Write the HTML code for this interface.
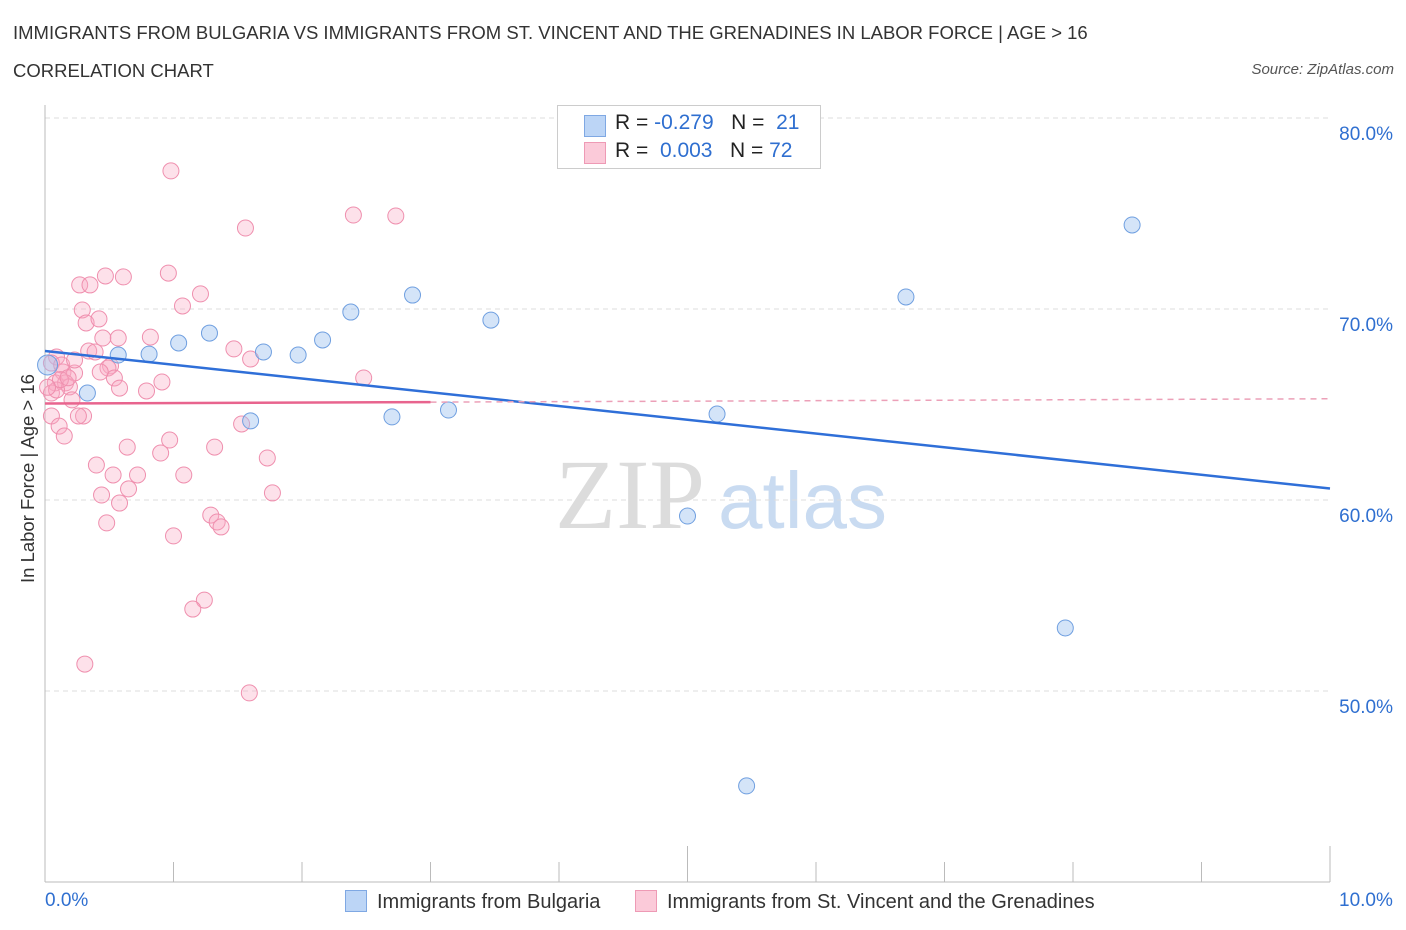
<!DOCTYPE html>
<html><head><meta charset="utf-8">
<style>
body{margin:0;background:#fff;font-family:"Liberation Sans",sans-serif;}
#wrap{position:relative;width:1406px;height:930px;overflow:hidden;}
.t{position:absolute;white-space:nowrap;}
</style></head><body>
<div id="wrap">
<div class="t" style="left:13px;top:22px;font-size:18.5px;color:#333;">IMMIGRANTS FROM BULGARIA VS IMMIGRANTS FROM ST. VINCENT AND THE GRENADINES IN LABOR FORCE | AGE &gt; 16</div>
<div class="t" style="left:13px;top:60px;font-size:18.5px;color:#333;">CORRELATION CHART</div>
<div class="t" style="right:12px;top:61px;font-size:15px;color:#555;font-style:italic;">Source: ZipAtlas.com</div>
<svg id="svg" width="1406" height="930" style="position:absolute;left:0;top:0">
<text x="555" y="528" font-family="Liberation Serif,serif" font-size="100" fill="#dcdcdc">ZIP</text>
<text x="718" y="528" font-family="Liberation Sans,sans-serif" font-size="80" fill="#c9dbf1">atlas</text>
<g id="grid"></g><g id="axes"></g><g id="pts"></g><g id="lines"></g>
</svg>
<div style="position:absolute;left:557px;top:105px;width:262px;height:62px;border:1px solid #ccc;background:#fff;font-size:21px;color:#222;">
<div style="position:absolute;left:26px;top:9px;width:20px;height:20px;background:#bcd5f6;border:1px solid #7fa8e3;"></div>
<div class="t" style="left:57px;top:5px;">R = <span style="color:#2f6fd0">-0.279</span>&nbsp;&nbsp;&nbsp;N = &nbsp;<span style="color:#2f6fd0">21</span></div>
<div style="position:absolute;left:26px;top:36px;width:20px;height:20px;background:#fbcad9;border:1px solid #ee9ab5;"></div>
<div class="t" style="left:57px;top:33px;">R = &nbsp;<span style="color:#2f6fd0">0.003</span>&nbsp;&nbsp;&nbsp;N = <span style="color:#2f6fd0">72</span></div>
</div>
<div class="t" style="left:-62px;top:482px;width:180px;text-align:center;font-size:18.5px;color:#333;transform:rotate(-90deg);">In Labor Force | Age &gt; 16</div>
<div class="t" style="left:45px;top:890px;font-size:19px;color:#2f6fd0;">0.0%</div>
<div class="t" style="left:1339px;top:890px;font-size:19px;color:#2f6fd0;">10.0%</div>
<div class="t" style="left:345px;top:890px;font-size:20px;color:#333;"><span style="display:inline-block;width:20px;height:20px;background:#bcd5f6;border:1px solid #7fa8e3;vertical-align:-4px;margin-right:10px;"></span>Immigrants from Bulgaria</div>
<div class="t" style="left:635px;top:890px;font-size:20px;color:#333;"><span style="display:inline-block;width:20px;height:20px;background:#fbcad9;border:1px solid #ee9ab5;vertical-align:-4px;margin-right:10px;"></span>Immigrants from St. Vincent and the Grenadines</div>
<div id="ylabels"></div>
</div>
<script>
const yTicks=[50,60,70,80];
const yTickLabels=["50.0%","60.0%","70.0%","80.0%"];
const blueX=[0.02,0.33,0.57,0.81,1.04,1.28,1.60,1.70,1.97,2.16,2.38,2.70,2.86,3.14,3.47,5.00,5.23,5.46,6.70,7.94,8.46];
const blueY=[67.07,65.6,67.59,67.64,68.22,68.74,64.14,67.75,67.59,68.38,69.84,64.35,70.73,64.71,69.42,59.16,64.50,45.03,70.63,53.30,74.40];
const pinkX=[0.98,1.56,2.40,2.73,0.96,0.61,0.47,0.27,0.35,1.21,1.07,0.29,0.32,0.42,0.82,0.57,0.45,1.47,1.60,0.34,0.09,0.05,0.14,0.23,0.51,0.49,0.54,0.58,0.79,0.91,2.48,0.08,0.16,0.05,0.19,0.09,0.21,0.30,0.05,0.26,0.11,0.15,1.53,0.64,1.32,0.97,0.90,1.73,0.40,0.53,0.72,1.08,0.44,0.65,0.58,1.77,1.29,1.34,1.37,0.48,1.00,1.24,1.15,0.31,1.59,0.13,0.23,0.12,0.18,0.43,0.02,0.39];
const pinkY=[77.23,74.24,74.92,74.87,71.88,71.68,71.73,71.26,71.26,70.79,70.16,69.95,69.27,69.48,68.53,68.48,68.48,67.91,67.38,67.80,67.49,67.17,66.70,66.65,67.02,66.91,66.39,65.86,65.71,66.18,66.39,66.13,66.13,65.60,65.92,65.76,65.24,64.40,64.40,64.40,63.87,63.35,63.98,62.77,62.77,63.14,62.46,62.20,61.83,61.31,61.31,61.31,60.26,60.58,59.84,60.37,59.21,58.85,58.59,58.80,58.12,54.76,54.29,51.41,49.90,67.07,67.33,66.3,66.4,66.7,65.9,67.75];
const blueTrend=[67.8,60.6];
const pinkTrend=[65.05,65.3];
const X=v=>45+v*128.5, Y=v=>118+(80-v)*19.1;
const NS="http://www.w3.org/2000/svg";
function mk(tag,attrs,parent){const e=document.createElementNS(NS,tag);for(const k in attrs)e.setAttribute(k,attrs[k]);parent.appendChild(e);return e;}
const grid=document.getElementById('grid'),axes=document.getElementById('axes'),pts=document.getElementById('pts'),lines=document.getElementById('lines');
yTicks.forEach((t,i)=>{
 const l=mk('line',{x1:45,x2:1330,y1:Y(t),y2:Y(t),stroke:'#ddd','stroke-dasharray':'5,4'},grid);
 
 
 const d=document.createElement('div');d.className='t';
 d.style.cssText='right:13px;top:'+(Y(t)+6)+'px;font-size:19px;color:#2f6fd0;';
 d.textContent=yTickLabels[i];
 
 
 document.getElementById('ylabels').appendChild(d);
});
const ya=mk('line',{x1:45,x2:45,y1:105,y2:882,stroke:'#bbb'},axes);


const xa=mk('line',{x1:45,x2:1330,y1:882,y2:882,stroke:'#bbb'},axes);


for(let i=1;i<=10;i++){
 const tk=mk('line',{x1:X(i),x2:X(i),y1:(i==5||i==10)?846:862,y2:882,stroke:'#bbb'},axes);
 
 
}
pinkX.forEach((x,i)=>{
 const c=mk('circle',{cx:X(x),cy:Y(pinkY[i]),r:8,fill:'rgba(248,170,196,0.35)',stroke:'#ef8fae','stroke-width':1},pts);
 
 
});
blueX.forEach((x,i)=>{
 const c=mk('circle',{cx:X(x),cy:Y(blueY[i]),r:i==0?10:8,fill:'rgba(160,196,240,0.45)',stroke:'#6f9fe0','stroke-width':1},pts);
 
 
});
const bt=mk('line',{x1:X(0),x2:X(10),y1:Y(blueTrend[0]),y2:Y(blueTrend[1]),stroke:'#2f6fd8','stroke-width':2.5},lines);


const pm=pinkTrend[0]+(pinkTrend[1]-pinkTrend[0])*0.3;
const ps=mk('line',{x1:X(0),x2:X(3),y1:Y(pinkTrend[0]),y2:Y(pm),stroke:'#e8648e','stroke-width':2.5},lines);


const pd=mk('line',{x1:X(3),x2:X(10),y1:Y(pm),y2:Y(pinkTrend[1]),stroke:'#eca0b8','stroke-width':1.5,'stroke-dasharray':'6,5'},lines);


</script>
</body></html>
